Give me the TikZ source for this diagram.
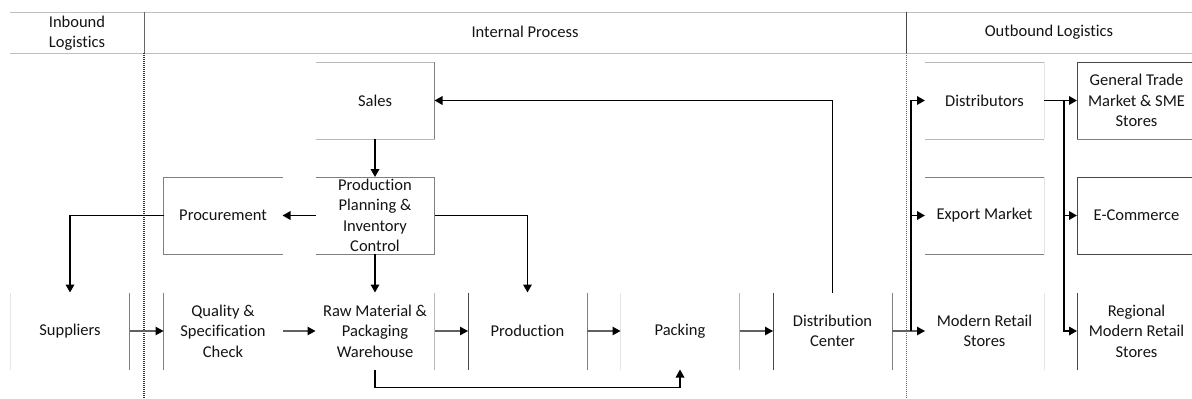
\documentclass[tikz,border=0pt]{standalone}
\usepackage{fontspec}
\setmainfont{Carlito}[Ligatures=NoCommon]
\usetikzlibrary{arrows.meta,calc}

\tikzset{
  lbl/.style={font=\fontsize{16.5}{20.5}\selectfont, text=black!92, align=center},
  box/.style={lbl, minimum width=119pt, minimum height=77pt, inner sep=0pt, outer sep=0pt},
  edgeD/.style={draw=black!72, line width=1pt},
  edgeM/.style={draw=black!50, line width=1pt},
  edgeL/.style={draw=black!28, line width=0.9pt},
  edgeF/.style={draw=black!10, line width=0.8pt},
  hline/.style={draw=black!25, line width=1pt},
  tip/.style={-{Triangle[length=8pt,width=8.5pt,color=black]}},
  flow/.style={draw=black, line width=1.7pt, tip},
  thinflow/.style={draw=black!62, line width=1.1pt, tip}
}

\begin{document}
\begin{tikzpicture}[x=1pt,y=-1pt]
\useasboundingbox (0,0) rectangle (1192,399);
\clip (0,0) rectangle (1192,399);

% ---- lane headers ----
\draw[hline] (10,12) -- (1192,12);
\draw[hline] (10,53) -- (1192,53);
\draw[draw=black!60, line width=1pt] (144,12) -- (144,53);
\draw[draw=black!80, line width=1.2pt, dash pattern=on 1pt off 1pt] (144,53) -- (144,399);
\draw[draw=black!72, line width=1pt] (906,12) -- (906,53);
\draw[draw=black!60, line width=1pt, dash pattern=on 1pt off 1pt] (906,53) -- (906,399);

\node[lbl] (hin)  at (77,33)   {Inbound\\Logistics};
\node[lbl] (hmid) at (525,32)  {Internal Process};
\node[lbl] (hout) at (1049,32) {Outbound Logistics};

% ---- process boxes ----
% top row
\node[box] (sales) at (375,100.5)    {Sales};
\node[box] (dist)  at (984.5,100.5)  {Distributors};
\node[box] (gt)    at (1136.5,100.5) {General Trade\\Market \& SME\\Stores};
% middle row
\node[box] (proc)  at (223,215.5)    {Procurement};
\node[box] (ppic)  at (375,215.5)    {Production\\Planning \&\\Inventory\\Control};
\node[box] (exp)   at (984.5,215.5)  {Export Market};
\node[box] (ecom)  at (1136.5,215.5) {E-Commerce};
% bottom row
\node[box] (sup)   at (70,331)       {Suppliers};
\node[box] (qual)  at (223,331)      {Quality \&\\Specification\\Check};
\node[box] (raw)   at (375,331)      {Raw Material \&\\Packaging\\Warehouse};
\node[box] (prod)  at (527.5,331)    {Production};
\node[box] (pack)  at (680,331)      {Packing};
\node[box] (dc)    at (832.5,331)    {Distribution\\Center};
\node[box] (mr)    at (984.5,331)    {Modern Retail\\Stores};
\node[box] (reg)   at (1136.5,331)   {Regional\\Modern Retail\\Stores};

% ---- box outlines (partial sides) ----
\draw[edgeL] (sales.north west) -- (sales.north east);
\draw[edgeL] (sales.south west) -- (sales.south east);
\draw[edgeM] (sales.north east) -- (sales.south east);

\draw[edgeL] (dist.north west) -- (dist.north east);
\draw[edgeL] (dist.south west) -- (dist.south east);
\draw[edgeF] (dist.north east) -- (dist.south east);

\draw[edgeD] (gt.north west) -- (gt.north east);
\draw[edgeM] (gt.south west) -- (gt.south east);
\draw[edgeD] (gt.north west) -- (gt.south west);

\draw[edgeM] (proc.north east) -- (proc.north west) -- (proc.south west) -- (proc.south east);
\draw[edgeM] (ppic.north west) -- (ppic.north east) -- (ppic.south east) -- (ppic.south west);

\draw[edgeM] (exp.north west) -- (exp.north east);
\draw[edgeM] (exp.south west) -- (exp.south east);
\draw[edgeF] (exp.north east) -- (exp.south east);

\draw[edgeD] (ecom.north east) -- (ecom.north west) -- (ecom.south west) -- (ecom.south east);

\draw[edgeF] (sup.north west) -- (sup.south west);
\draw[edgeM] (sup.north east) -- (sup.south east);
\draw[edgeM] (qual.north west) -- (qual.south west);
\draw[edgeL] (raw.north east) -- (raw.south east);
\draw[edgeD] (prod.north west) -- (prod.south west);
\draw[edgeM] (prod.north east) -- (prod.south east);
\draw[edgeF] (pack.north west) -- (pack.south west);
\draw[edgeL] (pack.north east) -- (pack.south east);
\draw[edgeD] (dc.north west) -- (dc.south west);
\draw[edgeM] (dc.north east) -- (dc.south east);
\draw[edgeF] (mr.north east) -- (mr.south east);
\draw[edgeD] (reg.north west) -- (reg.south west);

% ---- material flow along the bottom row ----
\draw[thinflow] (sup.east)  -- (qual.west);
\draw[thinflow] (qual.east) -- (raw.west);
\draw[thinflow] (raw.east)  -- (prod.west);
\draw[thinflow] (prod.east) -- (pack.west);
\draw[thinflow] (pack.east) -- (dc.west);
\draw[thinflow] (dc.east)   -- (mr.west);

% ---- planning and control flows ----
\draw[flow] (sales.south) -- (ppic.north);
\draw[flow] (ppic.west) -- (proc.east);
\draw[flow] (proc.west) -| (sup.north);
\draw[flow] (ppic.east) -| (prod.north);
\draw[flow] (ppic.south) -- (raw.north);
\draw[flow] (raw.south) -- ++(0,18) -| (pack.south);
\draw[flow] (dc.north) |- (sales.east);

% ---- distribution buses ----
\coordinate (bus1) at ($(dc.east)!0.58!(mr.west)$);
\draw[flow] (bus1) |- (dist.west);
\draw[flow] (bus1 |- exp.west) -- (exp.west);

\coordinate (bus2) at ($(dist.east)!0.6!(gt.west)$);
\draw[flow] (dist.east) -- (gt.west);
\draw[flow] (bus2) |- (reg.west);
\draw[flow] (bus2 |- ecom.west) -- (ecom.west);
\end{tikzpicture}
\end{document}
